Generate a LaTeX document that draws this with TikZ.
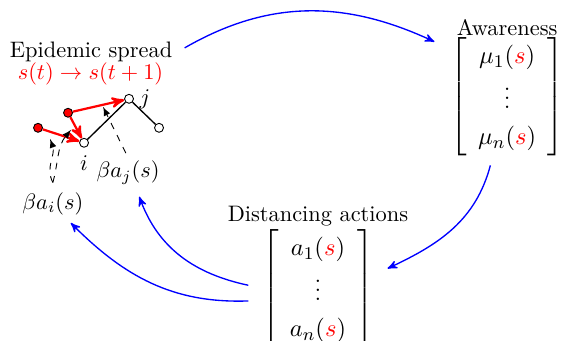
\documentclass[tikz,border=0pt]{standalone}
\usepackage{amsmath,amssymb}
\usepackage{xcolor}
\usetikzlibrary{arrows,calc}

\begin{document}
\begin{tikzpicture}[
	vert/.style={circle, draw, fill=white, inner sep=0pt, minimum size=4pt},
	infected/.style={vert, fill=red},
	spread/.style={red, line width=0.35mm, -stealth'},
	flow/.style={blue, semithick, -stealth'},
	effect/.style={dashed, -latex},
	vec/.style={inner sep=0pt, font=\fontsize{11pt}{13pt}\selectfont}]
	\useasboundingbox (0,0) rectangle (8.82,5.35);

	\node[anchor=base] (epi) at (1.43,4.44) {Epidemic spread};
	\node[anchor=base, red] (epiform) at (1.42,4.10) {$s(t)\rightarrow s(t+1)$};

	\node[infected] (r1) at (0.597,3.344) {};
	\node[infected] (r2) at (1.068,3.580) {};
	\node[vert, label={[label distance=0pt]below:$i$}] (i) at (1.319,3.109) {};
	\node[vert, label={[label distance=-1pt]right:$j$}] (j) at (2.025,3.799) {};
	\node[vert] (k) at (2.496,3.344) {};
	\draw[semithick] (i) -- (j) -- (k);
	\draw[spread] (r1) -- (i);
	\draw[spread] (r2) -- (i);
	\draw[spread] (r2) -- (j);

	\node (baj) at (2.01,2.64) {$\beta a_j(s)$};
	\node (bai) at (0.83,2.15) {$\beta a_i(s)$};
	\coordinate (tj) at (1.617,3.674);
	\coordinate (ta) at (0.785,3.171);
	\coordinate (tb) at (1.115,3.313);
	\draw[effect] ([xshift=-1pt]baj.north) -- (tj);
	\draw[effect] ([yshift=1pt]bai.north) to[out=118,in=-70] (ta);
	\draw[effect] ([yshift=1pt]bai.north) to[out=75,in=-130] (tb);

	\node[anchor=base] (aw) at (7.96,4.79) {Awareness};
	\node[vec] (amat) at (7.96,3.83) {\renewcommand{\arraystretch}{1.25}$\left[\begin{array}{c}
		\mu_1(\textcolor{red}{s})\\ \vdots\\ \mu_n(\textcolor{red}{s})
	\end{array}\right]$};

	\node[anchor=base] (dist) at (4.99,1.87) {Distancing actions};
	\node[vec] (dmat) at (4.99,0.82) {\renewcommand{\arraystretch}{1.25}$\left[\begin{array}{c}
		a_1(\textcolor{red}{s})\\ \vdots\\ a_n(\textcolor{red}{s})
	\end{array}\right]$};

	\draw[flow] ([xshift=2pt,yshift=2pt]epi.east) to[out=30,in=155] ([xshift=-7pt,yshift=-2pt]amat.north west);
	\draw[flow] ([xshift=-7.5pt,yshift=-4pt]amat.south) to[out=-105,in=25] ([xshift=6pt,yshift=9pt]dmat.east);
	\draw[flow] ([xshift=-6pt,yshift=1.5pt]dmat.west) to[out=168,in=-70] ([xshift=5pt,yshift=-2pt]baj.south);
	\draw[flow] ([xshift=-6pt,yshift=-5.5pt]dmat.west) to[out=182,in=-45] ([xshift=8pt,yshift=0pt]bai.south);
\end{tikzpicture}
\end{document}
